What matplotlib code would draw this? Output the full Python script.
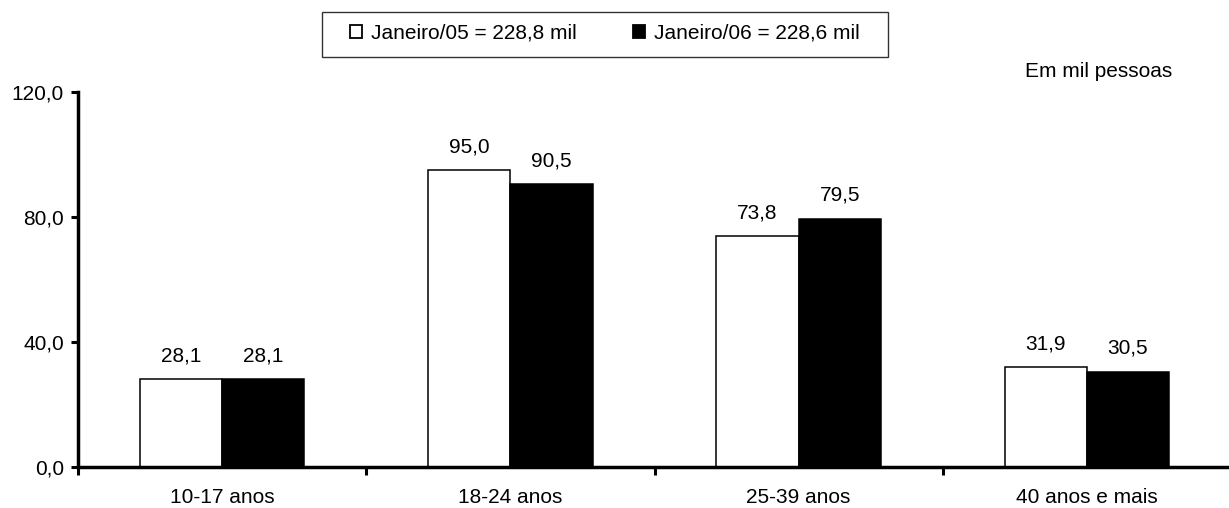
import matplotlib.pyplot as plt
import numpy as np
from matplotlib.patches import Patch, Rectangle

plt.rcParams["font.family"] = ["Liberation Sans", "DejaVu Sans"]

categories = ["10-17 anos", "18-24 anos", "25-39 anos", "40 anos e mais"]
jan05 = [28.1, 95.0, 73.8, 31.9]
jan06 = [28.1, 90.5, 79.5, 30.5]
labels = ["Janeiro/05 = 228,8 mil", "Janeiro/06 = 228,6 mil"]
yticks = [0, 40, 80, 120]

W, H = 1229, 508
FS = 15


def fmt(v):
    return f"{v:.1f}".replace(".", ",")


fig = plt.figure(figsize=(W / 100, H / 100), dpi=100)
ax = fig.add_axes([78 / W, 1 - 467 / H, (1231 - 78) / W, (467 - 92) / H])

x = np.arange(len(categories))
w = 0.285
b1 = ax.bar(x - w / 2, jan05, w, color="white", edgecolor="black", linewidth=1.1)
b2 = ax.bar(x + w / 2, jan06, w, color="black", edgecolor="black", linewidth=1.1)

for bars, vals in ((b1, jan05), (b2, jan06)):
    for bar, v in zip(bars, vals):
        ax.annotate(fmt(v), (bar.get_x() + bar.get_width() / 2, v),
                    xytext=(0, 13), textcoords="offset points",
                    ha="center", va="baseline", fontsize=FS)

ax.set_xlim(-0.5, len(categories) - 0.5)
ax.set_ylim(0, 120)
ax.set_yticks(yticks)
ax.set_yticklabels([fmt(v) for v in yticks], fontsize=FS)

# boundary ticks, labels centred between them
ax.set_xticks(np.arange(len(categories) + 1) - 0.5)
ax.set_xticklabels([])
ax.set_xticks(x, minor=True)
ax.set_xticklabels(categories, minor=True, fontsize=FS)
ax.tick_params(axis="x", which="minor", length=0, pad=15)
ax.tick_params(axis="x", which="major", length=5.5, width=2.2, direction="out")
ax.tick_params(axis="y", length=5, width=2.2, direction="out", pad=5)

for s in ("top", "right"):
    ax.spines[s].set_visible(False)
for s in ("left", "bottom"):
    ax.spines[s].set_linewidth(2.5)
ax.spines["bottom"].set_capstyle("butt")

fig.text(1172 / W, 1 - 77 / H, "Em mil pessoas", ha="right", va="baseline",
         fontsize=FS)

# legend box
fig.patches.append(Rectangle((322 / W, 1 - 57 / H), 566 / W, 45 / H,
                             transform=fig.transFigure, fill=False,
                             edgecolor="#333333", linewidth=1))
handles = [Patch(facecolor="white", edgecolor="black", linewidth=1.3),
           Patch(facecolor="black", edgecolor="black", linewidth=1.3)]
fig.legend(handles, labels, loc="center", bbox_to_anchor=(605 / W, 1 - 33 / H),
           ncol=2, fontsize=FS, frameon=False,
           handlelength=0.55, handleheight=0.6, handletextpad=0.45,
           columnspacing=2.7, borderpad=0, borderaxespad=0)

fig.savefig("out.png", dpi=100)
